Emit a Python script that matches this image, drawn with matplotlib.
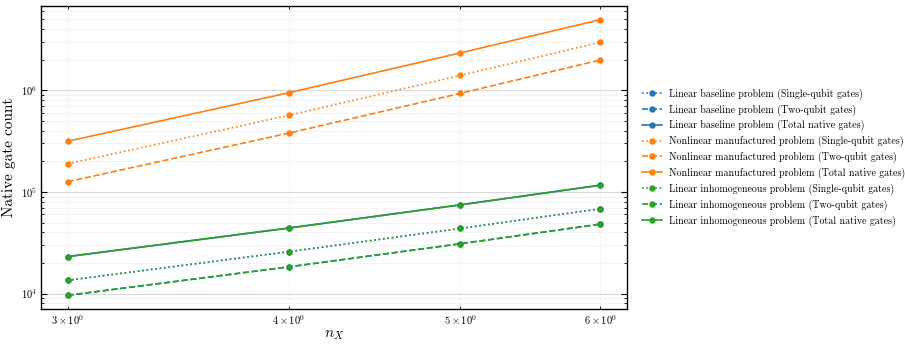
import matplotlib
matplotlib.use("Agg")
import matplotlib.pyplot as plt

plt.rcParams['font.family'] = 'serif'
plt.rcParams['font.serif'] = ['cmr10', 'DejaVu Serif']
plt.rcParams['mathtext.fontset'] = 'cm'
plt.rcParams['axes.formatter.use_mathtext'] = True
plt.rcParams['axes.unicode_minus'] = False

n_x = [3, 4, 5, 6]

# linear baseline and linear inhomogeneous give the same counts
baseline_single = [13500, 25800, 43700, 68300]
baseline_two = [9600, 18300, 30900, 48200]
baseline_total = [23100, 44100, 74600, 116500]

nonlinear_single = [189000, 567000, 1400000, 2970000]
nonlinear_two = [126000, 379000, 933000, 1990000]
nonlinear_total = [315000, 946000, 2333000, 4960000]

inhom_single = [13500, 25800, 43700, 68300]
inhom_two = [9600, 18300, 30900, 48200]
inhom_total = [23100, 44100, 74600, 116500]

groups = [
    ('Linear baseline problem', 'tab:blue', baseline_single, baseline_two, baseline_total),
    ('Nonlinear manufactured problem', 'tab:orange', nonlinear_single, nonlinear_two, nonlinear_total),
    ('Linear inhomogeneous problem', 'tab:green', inhom_single, inhom_two, inhom_total),
]

fig = plt.figure(figsize=(9.05, 3.45), dpi=100)
ax = fig.add_axes([0.0453, 0.104, 0.6476, 0.879])

for name, col, single, two, total in groups:
    ax.plot(n_x, single, ':', marker='o', ms=3.6, lw=1.2, color=col,
            label=name + ' (Single-qubit gates)')
    ax.plot(n_x, two, '--', marker='o', ms=3.6, lw=1.2, color=col,
            label=name + ' (Two-qubit gates)')
    ax.plot(n_x, total, '-', marker='o', ms=3.6, lw=1.2, color=col,
            label=name + ' (Total native gates)')

ax.set_xscale('log')
ax.set_yscale('log')
ax.set_xlabel('$n_X$', fontsize=11, labelpad=1)
ax.set_ylabel('Native gate count', fontsize=11, labelpad=3)

ax.tick_params(which='both', direction='in', top=True, right=True, labelsize=7.5, pad=3)
ax.tick_params(which='major', length=4)
ax.tick_params(which='minor', length=2)
ax.grid(True, which='major', color='0.85', lw=0.8)
ax.grid(True, which='minor', color='0.94', lw=0.5)
for s in ax.spines.values():
    s.set_linewidth(1.0)

ax.legend(loc='center left', bbox_to_anchor=(1.01, 0.5), frameon=False,
          fontsize=7.2, handlelength=2, handletextpad=0.7, labelspacing=0.45)

fig.savefig('out.png', dpi=100)
